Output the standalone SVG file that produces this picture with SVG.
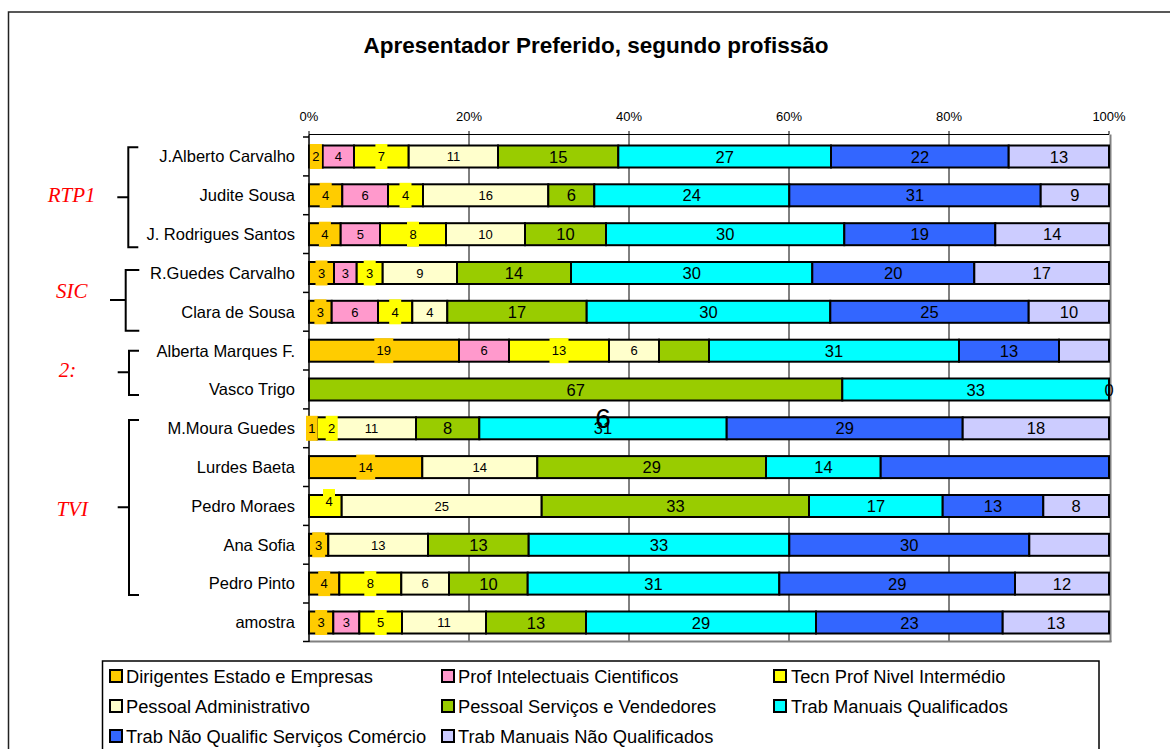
<svg xmlns="http://www.w3.org/2000/svg" width="1170" height="749" viewBox="0 0 1170 749">
<style>
.s1{fill:#FFCC00}.s2{fill:#FF99CC}.s3{fill:#FFFF00}.s4{fill:#FFFFCC}.s5{fill:#99CC00}.s6{fill:#00FFFF}.s7{fill:#3366FF}.s8{fill:#CCCCFF}
.seg rect{stroke:#000;stroke-width:2}
.ls{font-family:"Liberation Sans",Arial,sans-serif;font-size:13px;text-anchor:middle;fill:#000}
.lb{font-family:"Liberation Sans",Arial,sans-serif;font-size:16.5px;text-anchor:middle;fill:#000}
.cat{font-family:"Liberation Sans",Arial,sans-serif;font-size:16.5px;text-anchor:end;fill:#000}
.pct{font-family:"Liberation Sans",Arial,sans-serif;font-size:13px;text-anchor:middle;fill:#000}
.grp{font-family:"Liberation Serif","Times New Roman",serif;font-style:italic;font-size:21px;text-anchor:middle;fill:#FF0000}
.leg{font-family:"Liberation Sans",Arial,sans-serif;font-size:18.3px;fill:#000}
.lsq{stroke:#000;stroke-width:2}
.br{fill:none;stroke:#000;stroke-width:2}
</style>
<rect width="1170" height="749" fill="#fff"/>
<path d="M8.5,749 V12 H1175" fill="none" stroke="#222" stroke-width="1.5"/>
<text x="596" y="53" font-family="Liberation Sans,Arial,sans-serif" font-size="22.5" font-weight="bold" text-anchor="middle">Apresentador Preferido, segundo profissão</text>

<g id="plot-area">
<rect x="309" y="134.5" width="800" height="506.5" fill="#fff"/>
<g stroke="#000" stroke-width="1">
<line x1="469" y1="134.5" x2="469" y2="641"/><line x1="629" y1="134.5" x2="629" y2="641"/><line x1="789" y1="134.5" x2="789" y2="641"/><line x1="949" y1="134.5" x2="949" y2="641"/>
<line x1="309" y1="134.5" x2="1109" y2="134.5"/>
<line x1="309" y1="131" x2="309" y2="134.5"/><line x1="469" y1="131" x2="469" y2="134.5"/><line x1="629" y1="131" x2="629" y2="134.5"/><line x1="789" y1="131" x2="789" y2="134.5"/><line x1="949" y1="131" x2="949" y2="134.5"/><line x1="1109" y1="131" x2="1109" y2="134.5"/>
</g>
<line x1="1110.5" y1="134.5" x2="1110.5" y2="642" stroke="#808080" stroke-width="2"/>
<line x1="309" y1="641.5" x2="1111.5" y2="641.5" stroke="#808080" stroke-width="2"/>
<g stroke="#000" stroke-width="1.5">
<line x1="309" y1="134.5" x2="309" y2="642"/>
<line x1="303" y1="137" x2="309" y2="137"/><line x1="303" y1="175.9" x2="309" y2="175.9"/><line x1="303" y1="214.7" x2="309" y2="214.7"/><line x1="303" y1="253.5" x2="309" y2="253.5"/><line x1="303" y1="292.4" x2="309" y2="292.4"/><line x1="303" y1="331.2" x2="309" y2="331.2"/><line x1="303" y1="370" x2="309" y2="370"/><line x1="303" y1="408.9" x2="309" y2="408.9"/><line x1="303" y1="447.7" x2="309" y2="447.7"/><line x1="303" y1="486.5" x2="309" y2="486.5"/><line x1="303" y1="525.4" x2="309" y2="525.4"/><line x1="303" y1="564.2" x2="309" y2="564.2"/><line x1="303" y1="603" x2="309" y2="603"/><line x1="303" y1="641.5" x2="309" y2="641.5"/>
</g>
<text class="pct" x="309" y="121">0%</text><text class="pct" x="469" y="121">20%</text><text class="pct" x="629" y="121">40%</text><text class="pct" x="789" y="121">60%</text><text class="pct" x="949" y="121">80%</text><text class="pct" x="1109" y="121">100%</text>
</g>

<g id="row-0">
<text class="cat" x="295" y="162.3">J.Alberto Carvalho</text>
<g class="seg"><rect class="s1" x="309" y="145.5" width="13.7" height="22"/><rect class="s2" x="322.7" y="145.5" width="31.3" height="22"/><rect class="s3" x="354" y="145.5" width="54.7" height="22"/><rect class="s4" x="408.7" y="145.5" width="89.3" height="22"/><rect class="s5" x="498" y="145.5" width="120.3" height="22"/><rect class="s6" x="618.3" y="145.5" width="212.7" height="22"/><rect class="s7" x="831" y="145.5" width="177.7" height="22"/><rect class="s8" x="1008.7" y="145.5" width="100.3" height="22"/></g>
<rect class="s1" x="309.9" y="144" width="12" height="25"/><rect class="s3" x="375.4" y="144" width="12" height="25"/>
<text class="ls" x="315.9" y="161.2">2</text><text class="ls" x="338.4" y="161.2">4</text><text class="ls" x="381.4" y="161.2">7</text><text class="ls" x="453.4" y="161.2">11</text>
<text class="lb" x="558.2" y="162.5">15</text><text class="lb" x="724.7" y="162.5">27</text><text class="lb" x="919.9" y="162.5">22</text><text class="lb" x="1058.9" y="162.5">13</text>
</g>

<g id="row-1">
<text class="cat" x="295" y="201.1">Judite Sousa</text>
<g class="seg"><rect class="s1" x="309" y="184.3" width="33.3" height="22"/><rect class="s2" x="342.3" y="184.3" width="45.7" height="22"/><rect class="s3" x="388" y="184.3" width="35" height="22"/><rect class="s4" x="423" y="184.3" width="125.3" height="22"/><rect class="s5" x="548.3" y="184.3" width="46" height="22"/><rect class="s6" x="594.3" y="184.3" width="195" height="22"/><rect class="s7" x="789.3" y="184.3" width="251.4" height="22"/><rect class="s8" x="1040.7" y="184.3" width="68.3" height="22"/></g>
<rect class="s1" x="319.7" y="182.8" width="12" height="25"/><rect class="s3" x="399.5" y="182.8" width="12" height="25"/>
<text class="ls" x="325.7" y="200">4</text><text class="ls" x="365.2" y="200">6</text><text class="ls" x="405.5" y="200">4</text><text class="ls" x="485.7" y="200">16</text>
<text class="lb" x="571.3" y="201.3">6</text><text class="lb" x="691.8" y="201.3">24</text><text class="lb" x="915" y="201.3">31</text><text class="lb" x="1074.9" y="201.3">9</text>
</g>

<g id="row-2">
<text class="cat" x="295" y="240">J. Rodrigues Santos</text>
<g class="seg"><rect class="s1" x="309" y="223.2" width="31.7" height="22"/><rect class="s2" x="340.7" y="223.2" width="39.3" height="22"/><rect class="s3" x="380" y="223.2" width="66" height="22"/><rect class="s4" x="446" y="223.2" width="79" height="22"/><rect class="s5" x="525" y="223.2" width="81" height="22"/><rect class="s6" x="606" y="223.2" width="238.3" height="22"/><rect class="s7" x="844.3" y="223.2" width="151" height="22"/><rect class="s8" x="995.3" y="223.2" width="113.7" height="22"/></g>
<rect class="s1" x="318.9" y="221.7" width="12" height="25"/><rect class="s3" x="407" y="221.7" width="12" height="25"/>
<text class="ls" x="324.9" y="238.9">4</text><text class="ls" x="360.4" y="238.9">5</text><text class="ls" x="413" y="238.9">8</text><text class="ls" x="485.5" y="238.9">10</text>
<text class="lb" x="565.5" y="240.2">10</text><text class="lb" x="725.2" y="240.2">30</text><text class="lb" x="919.8" y="240.2">19</text><text class="lb" x="1052.2" y="240.2">14</text>
</g>

<g id="row-3">
<text class="cat" x="295" y="278.8">R.Guedes Carvalho</text>
<g class="seg"><rect class="s1" x="309" y="262" width="25" height="22"/><rect class="s2" x="334" y="262" width="22.7" height="22"/><rect class="s3" x="356.7" y="262" width="26" height="22"/><rect class="s4" x="382.7" y="262" width="74.3" height="22"/><rect class="s5" x="457" y="262" width="114" height="22"/><rect class="s6" x="571" y="262" width="241.3" height="22"/><rect class="s7" x="812.3" y="262" width="162" height="22"/><rect class="s8" x="974.3" y="262" width="134.7" height="22"/></g>
<rect class="s1" x="315.5" y="260.5" width="12" height="25"/><rect class="s3" x="363.7" y="260.5" width="12" height="25"/>
<text class="ls" x="321.5" y="277.7">3</text><text class="ls" x="345.4" y="277.7">3</text><text class="ls" x="369.7" y="277.7">3</text><text class="ls" x="419.9" y="277.7">9</text>
<text class="lb" x="514" y="279">14</text><text class="lb" x="691.7" y="279">30</text><text class="lb" x="893.3" y="279">20</text><text class="lb" x="1041.7" y="279">17</text>
</g>

<g id="row-4">
<text class="cat" x="295" y="317.6">Clara de Sousa</text>
<g class="seg"><rect class="s1" x="309" y="300.8" width="22.7" height="22"/><rect class="s2" x="331.7" y="300.8" width="46.3" height="22"/><rect class="s3" x="378" y="300.8" width="34.3" height="22"/><rect class="s4" x="412.3" y="300.8" width="35" height="22"/><rect class="s5" x="447.3" y="300.8" width="139.4" height="22"/><rect class="s6" x="586.7" y="300.8" width="243.6" height="22"/><rect class="s7" x="830.3" y="300.8" width="198.4" height="22"/><rect class="s8" x="1028.7" y="300.8" width="80.3" height="22"/></g>
<rect class="s1" x="314.4" y="299.3" width="12" height="25"/><rect class="s3" x="389.2" y="299.3" width="12" height="25"/>
<text class="ls" x="320.4" y="316.5">3</text><text class="ls" x="354.9" y="316.5">6</text><text class="ls" x="395.2" y="316.5">4</text><text class="ls" x="429.8" y="316.5">4</text>
<text class="lb" x="517" y="317.8">17</text><text class="lb" x="708.5" y="317.8">30</text><text class="lb" x="929.5" y="317.8">25</text><text class="lb" x="1068.9" y="317.8">10</text>
</g>

<g id="row-5">
<text class="cat" x="295" y="356.5">Alberta Marques F.</text>
<g class="seg"><rect class="s1" x="309" y="339.7" width="150" height="22"/><rect class="s2" x="459" y="339.7" width="50" height="22"/><rect class="s3" x="509" y="339.7" width="100" height="22"/><rect class="s4" x="609" y="339.7" width="50" height="22"/><rect class="s5" x="659" y="339.7" width="50" height="22"/><rect class="s6" x="709" y="339.7" width="250" height="22"/><rect class="s7" x="959" y="339.7" width="100" height="22"/><rect class="s8" x="1059" y="339.7" width="50" height="22"/></g>
<rect class="s1" x="374.3" y="338.2" width="19" height="25"/><rect class="s3" x="549.5" y="338.2" width="19" height="25"/>
<text class="ls" x="383.8" y="355.4">19</text><text class="ls" x="484" y="355.4">6</text><text class="ls" x="559" y="355.4">13</text><text class="ls" x="634" y="355.4">6</text>
<text class="lb" x="834" y="356.7">31</text><text class="lb" x="1009" y="356.7">13</text>
</g>

<g id="row-6">
<text class="cat" x="295" y="395.3">Vasco Trigo</text>
<g class="seg"><rect class="s5" x="309" y="378.5" width="533.3" height="22"/><rect class="s6" x="842.3" y="378.5" width="266.7" height="22"/></g>
<text class="lb" x="575.7" y="395.5">67</text><text class="lb" x="975.7" y="395.5">33</text><text class="lb" x="1109" y="395.5">0</text>
</g>

<g id="row-7">
<text class="cat" x="295" y="434.1">M.Moura Guedes</text>
<g class="seg"><rect class="s1" x="309" y="417.3" width="8" height="22"/><rect class="s3" x="317" y="417.3" width="10" height="22"/><rect class="s4" x="327" y="417.3" width="89" height="22"/><rect class="s5" x="416" y="417.3" width="63.3" height="22"/><rect class="s6" x="479.3" y="417.3" width="247.4" height="22"/><rect class="s7" x="726.7" y="417.3" width="236" height="22"/><rect class="s8" x="962.7" y="417.3" width="146.3" height="22"/></g>
<rect class="s1" x="306" y="415.8" width="11.7" height="25"/><rect class="s3" x="325.7" y="415.8" width="12" height="25"/>
<text class="ls" x="311.8" y="433">1</text><text class="ls" x="331.7" y="433">2</text><text class="ls" x="371.5" y="433">11</text>
<text class="lb" x="447.7" y="434.3">8</text><text class="lb" x="603" y="434.3">31</text><text class="lb" x="844.7" y="434.3">29</text><text class="lb" x="1035.9" y="434.3">18</text>
<text x="603" y="428" font-family="Liberation Sans,Arial,sans-serif" font-size="28" text-anchor="middle">6</text>
</g>

<g id="row-8">
<text class="cat" x="295" y="472.9">Lurdes Baeta</text>
<g class="seg"><rect class="s1" x="309" y="456.1" width="113.3" height="22"/><rect class="s4" x="422.3" y="456.1" width="115" height="22"/><rect class="s5" x="537.3" y="456.1" width="228.7" height="22"/><rect class="s6" x="766" y="456.1" width="114.7" height="22"/><rect class="s7" x="880.7" y="456.1" width="228.3" height="22"/></g>
<rect class="s1" x="356.2" y="454.6" width="19" height="25"/>
<text class="ls" x="365.7" y="471.8">14</text><text class="ls" x="479.8" y="471.8">14</text>
<text class="lb" x="651.7" y="473.1">29</text><text class="lb" x="823.4" y="473.1">14</text>
</g>

<g id="row-9">
<text class="cat" x="295" y="511.8">Pedro Moraes</text>
<g class="seg"><rect class="s3" x="309" y="495" width="32.7" height="22"/><rect class="s4" x="341.7" y="495" width="200" height="22"/><rect class="s5" x="541.7" y="495" width="267.3" height="22"/><rect class="s6" x="809" y="495" width="133.7" height="22"/><rect class="s7" x="942.7" y="495" width="100.6" height="22"/><rect class="s8" x="1043.3" y="495" width="65.7" height="22"/></g>
<rect class="s3" x="323" y="489" width="12" height="24"/>
<text class="ls" x="329" y="505.5">4</text><text class="ls" x="441.7" y="510.7">25</text>
<text class="lb" x="675.4" y="512">33</text><text class="lb" x="875.9" y="512">17</text><text class="lb" x="993" y="512">13</text><text class="lb" x="1076.2" y="512">8</text>
</g>

<g id="row-10">
<text class="cat" x="295" y="550.6">Ana Sofia</text>
<g class="seg"><rect class="s1" x="309" y="533.8" width="19.3" height="22"/><rect class="s4" x="328.3" y="533.8" width="99.7" height="22"/><rect class="s5" x="428" y="533.8" width="100.7" height="22"/><rect class="s6" x="528.7" y="533.8" width="260.6" height="22"/><rect class="s7" x="789.3" y="533.8" width="240" height="22"/><rect class="s8" x="1029.3" y="533.8" width="79.7" height="22"/></g>
<rect class="s1" x="312.2" y="532.3" width="13" height="25"/>
<text class="ls" x="318.7" y="549.5">3</text><text class="ls" x="378.2" y="549.5">13</text>
<text class="lb" x="478.4" y="550.8">13</text><text class="lb" x="659" y="550.8">33</text><text class="lb" x="909.3" y="550.8">30</text>
</g>

<g id="row-11">
<text class="cat" x="295" y="589.4">Pedro Pinto</text>
<g class="seg"><rect class="s1" x="309" y="572.6" width="30.3" height="22"/><rect class="s3" x="339.3" y="572.6" width="62" height="22"/><rect class="s4" x="401.3" y="572.6" width="47.7" height="22"/><rect class="s5" x="449" y="572.6" width="78.7" height="22"/><rect class="s6" x="527.7" y="572.6" width="251.6" height="22"/><rect class="s7" x="779.3" y="572.6" width="235.7" height="22"/><rect class="s8" x="1015" y="572.6" width="94" height="22"/></g>
<rect class="s1" x="318.2" y="571.1" width="12" height="25"/><rect class="s3" x="364.3" y="571.1" width="12" height="25"/>
<text class="ls" x="324.2" y="588.3">4</text><text class="ls" x="370.3" y="588.3">8</text><text class="ls" x="425.2" y="588.3">6</text>
<text class="lb" x="488.4" y="589.6">10</text><text class="lb" x="653.5" y="589.6">31</text><text class="lb" x="897.2" y="589.6">29</text><text class="lb" x="1062" y="589.6">12</text>
</g>

<g id="row-12">
<text class="cat" x="295" y="628.3">amostra</text>
<g class="seg"><rect class="s1" x="309" y="611.5" width="24.3" height="22"/><rect class="s2" x="333.3" y="611.5" width="26" height="22"/><rect class="s3" x="359.3" y="611.5" width="42.7" height="22"/><rect class="s4" x="402" y="611.5" width="84" height="22"/><rect class="s5" x="486" y="611.5" width="100" height="22"/><rect class="s6" x="586" y="611.5" width="230" height="22"/><rect class="s7" x="816" y="611.5" width="186.7" height="22"/><rect class="s8" x="1002.7" y="611.5" width="106.3" height="22"/></g>
<rect class="s1" x="315.2" y="610" width="12" height="25"/><rect class="s3" x="374.7" y="610" width="12" height="25"/>
<text class="ls" x="321.2" y="627.2">3</text><text class="ls" x="346.3" y="627.2">3</text><text class="ls" x="380.7" y="627.2">5</text><text class="ls" x="444" y="627.2">11</text>
<text class="lb" x="536" y="628.5">13</text><text class="lb" x="701" y="628.5">29</text><text class="lb" x="909.4" y="628.5">23</text><text class="lb" x="1055.9" y="628.5">13</text>
</g>

<g id="connectors">
<path class="br" d="M138.3,147.3 H128.3 V247.3 H138.3 M117.3,197.3 H128.3"/>
<path class="br" d="M139.3,270 H125.7 V330.7 H139.3 M110,300 H125.7"/>
<path class="br" d="M139,350.7 H129 V395 H139 M117.7,372.3 H129"/>
<path class="br" d="M139,420 H129 V595 H139 M117.7,507.3 H129"/>
</g>

<g id="group-RTP1"><text class="grp" x="71.7" y="202.3">RTP1</text></g>
<g id="group-SIC"><text class="grp" x="71.7" y="298.3">SIC</text></g>
<g id="group-2"><text class="grp" x="67.5" y="376.7">2:</text></g>
<g id="group-TVI"><text class="grp" x="72.2" y="515.7">TVI</text></g>

<g id="legend">
<rect x="102.5" y="661" width="996.5" height="120" fill="#fff" stroke="#000" stroke-width="1.5"/>
<rect class="lsq s1" x="110" y="670" width="12" height="12"/><text class="leg" x="126" y="682.5">Dirigentes Estado e Empresas</text>
<rect class="lsq s2" x="442" y="670" width="12" height="12"/><text class="leg" x="458" y="682.5">Prof Intelectuais Cientificos</text>
<rect class="lsq s3" x="774" y="670" width="12" height="12"/><text class="leg" x="791" y="682.5">Tecn Prof Nivel Intermédio</text>
<rect class="lsq s4" x="110" y="700" width="12" height="12"/><text class="leg" x="126" y="712.5">Pessoal Administrativo</text>
<rect class="lsq s5" x="442" y="700" width="12" height="12"/><text class="leg" x="458" y="712.5">Pessoal Serviços e Vendedores</text>
<rect class="lsq s6" x="774" y="700" width="12" height="12"/><text class="leg" x="791" y="712.5">Trab Manuais Qualificados</text>
<rect class="lsq s7" x="110" y="730" width="12" height="12"/><text class="leg" x="126" y="742.5">Trab Não Qualific Serviços Comércio</text>
<rect class="lsq s8" x="442" y="730" width="12" height="12"/><text class="leg" x="458" y="742.5">Trab Manuais Não Qualificados</text>
</g>
</svg>
